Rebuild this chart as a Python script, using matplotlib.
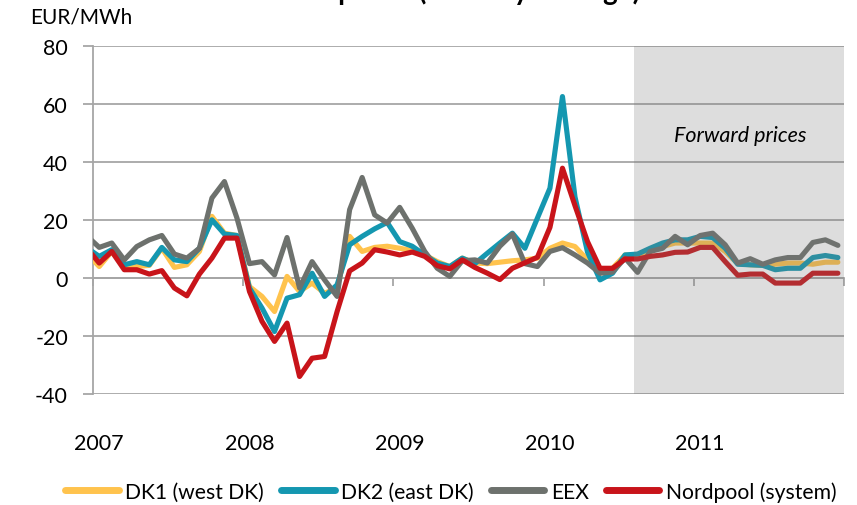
import numpy as np
import matplotlib.pyplot as plt

# months as category index: -1 = Dec 2006 (clipped), 0 = Jan 2007 ... 59 = Dec 2011
months = np.arange(-1, 60)
years = ['2007', '2008', '2009', '2010', '2011']
year_pos = [0, 12, 24, 36, 48]

dk1 = [8.6, 4.0, 9.2, 4.4, 4.0, 4.4, 10.3, 3.7, 4.6, 9.2, 21.3, 15.5, 14.7,
       -2.9, -6.3, -11.5, 0.6, -4.6, -1.7, -5.2, -3.4, 14.4, 9.2, 10.6, 11.0,
       10.3, 9.5, 8.0, 5.7, 4.0, 6.9, 5.2, 5.0, 5.5, 6.0, 6.3, 6.9,
       10.3, 12.1, 10.9, 6.3, 1.7, 3.4, 8.0, 8.0, 9.2, 10.9, 12.1, 12.1,
       12.1, 12.1, 9.2, 5.0, 4.6, 4.4, 4.8, 5.2, 5.2, 4.8, 5.5, 5.5]
dk2 = [10.5, 7.5, 9.8, 4.6, 5.7, 4.6, 10.6, 6.3, 5.7, 10.3, 20.1, 15.2, 14.7,
       -3.4, -10.3, -18.4, -6.9, -5.7, 1.7, -6.3, -2.3, 11.5, 14.4, 17.0, 19.2,
       12.6, 11.0, 8.0, 5.2, 4.0, 6.9, 5.0, 8.6, 12.1, 15.5, 10.3, 20.7,
       31.0, 62.6, 28.0, 9.0, -0.6, 1.7, 8.0, 8.3, 10.3, 12.1, 13.2, 13.2,
       14.4, 14.0, 10.3, 4.8, 4.6, 4.4, 2.9, 3.4, 3.4, 7.1, 7.8, 7.1]
eex = [14.6, 10.6, 12.1, 6.3, 10.9, 13.2, 14.7, 8.3, 6.9, 10.3, 27.6, 33.3, 20.7,
       5.0, 5.7, 1.1, 14.0, -3.4, 5.7, -0.6, -6.3, 23.6, 34.7, 21.8, 19.0,
       24.4, 17.2, 9.2, 3.4, 0.6, 6.0, 6.3, 5.2, 11.0, 15.2, 5.0, 4.0,
       9.2, 10.5, 8.0, 5.2, 1.7, 2.1, 6.9, 2.0, 9.2, 10.3, 14.4, 11.5,
       14.7, 15.5, 11.5, 5.2, 6.7, 4.8, 6.3, 7.1, 7.1, 12.3, 13.2, 11.3]
nordpool = [10.4, 5.2, 9.2, 2.9, 2.9, 1.4, 2.6, -3.4, -6.1, 1.4, 6.9, 13.8, 13.8,
            -4.6, -14.9, -21.8, -15.5, -33.9, -27.6, -27.0, -11.5, 2.5, 5.2, 9.8, 9.0,
            8.0, 9.0, 7.5, 4.3, 3.2, 6.3, 3.7, 1.7, -0.5, 3.4, 5.3, 7.2,
            17.5, 37.9, 25.0, 12.6, 3.4, 3.4, 6.6, 6.6, 7.5, 8.0, 8.9, 9.0,
            10.6, 10.6, 5.7, 1.0, 1.4, 1.4, -1.7, -1.7, -1.7, 1.7, 1.7, 1.7]

series = ['DK1 (west DK)', 'DK2 (east DK)', 'EEX', 'Nordpool (system)']
colors = ['#ffc34d', '#1497b0', '#6d716d', '#c8141a']
forward_start = 42.7

plt.rcParams['font.family'] = ['Lato', 'DejaVu Sans']
plt.rcParams['axes.unicode_minus'] = False
grid_col = '#a6a6a6'

fig = plt.figure(figsize=(8.57, 5.06), dpi=100)
ax = fig.add_axes([0.1085, 0.219, 0.8765, 0.688])

for name, vals, col in zip(series, [dk1, dk2, eex, nordpool], colors):
    ax.plot(months, vals, color=col, lw=3.7, label=name, zorder=3,
            solid_capstyle='round')

ax.set_xlim(-0.5, 59.5)
ax.set_ylim(-40, 80)
ax.set_yticks(range(-40, 81, 20))
ax.tick_params(axis='y', length=7, width=1.3, color=grid_col, pad=11,
               labelsize=15.5)
ax.grid(axis='y', color=grid_col, lw=1.3)
ax.set_axisbelow(True)

for s in ['top', 'right']:
    ax.spines[s].set_visible(False)
ax.spines['left'].set_color(grid_col)
ax.spines['left'].set_linewidth(1.3)
ax.spines['bottom'].set_position(('data', 0))
ax.spines['bottom'].set_color(grid_col)
ax.spines['bottom'].set_linewidth(1.3)
ax.set_xticks(np.arange(-0.5, 60, 12))
ax.tick_params(axis='x', length=6, width=1.3, color=grid_col, labelbottom=False)

sec = ax.secondary_xaxis('bottom')
sec.set_xticks(year_pos, years)
sec.tick_params(length=0, pad=28, labelsize=15.5)
sec.spines['bottom'].set_visible(False)

# forward price period shaded on top of lines
ax.axvspan(forward_start, 59.5, facecolor='#787878', alpha=0.25, lw=0, zorder=5)
ax.text(51.2, 49.5, 'Forward prices', style='italic', fontsize=15.5,
        ha='center', va='center', zorder=6)

fig.text(30 / 857, 1 - 18 / 506, 'EUR/MWh', fontsize=15, va='center')
fig.text(640 / 857, 1.0, 'Wholesale prices (monthly average)', ha='right',
         va='baseline', fontsize=20, weight='bold')

handles, labels = ax.get_legend_handles_labels()
leg = fig.legend(handles, labels, loc='center', bbox_to_anchor=(0.526, 0.027),
                 ncol=4, frameon=False, fontsize=15.2, handlelength=2.55,
                 handletextpad=0.3, columnspacing=0.8)
for h in leg.legend_handles:
    h.set_linewidth(5)

plt.savefig('out.png', dpi=100)
